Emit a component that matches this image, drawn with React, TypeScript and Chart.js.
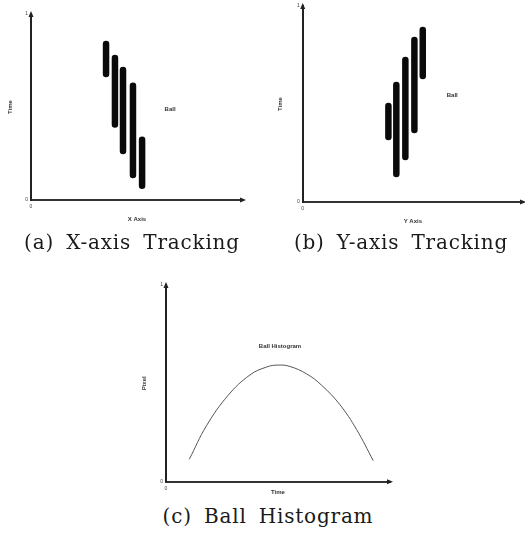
import React, { useEffect, useRef } from "react";
import { Chart, registerables } from "chart.js";

Chart.register(...registerables);

// (a) X-axis tracking: vertical strokes (x position, time from -> to)
const aStrokeX = [0.354, 0.396, 0.434, 0.481, 0.524];
const aStrokeTop = [0.839, 0.764, 0.699, 0.614, 0.324];
const aStrokeBottom = [0.677, 0.406, 0.263, 0.134, 0.076];

// (b) Y-axis tracking
const bStrokeX = [0.389, 0.425, 0.466, 0.507, 0.545];
const bStrokeTop = [0.49, 0.597, 0.725, 0.827, 0.878];
const bStrokeBottom = [0.331, 0.143, 0.229, 0.367, 0.643];

// (c) Ball histogram curve
const cTime = [0.104, 0.181, 0.278, 0.375, 0.449, 0.501, 0.553, 0.628, 0.695, 0.776, 0.851, 0.925];
const cPixel = [0.114, 0.285, 0.44, 0.543, 0.583, 0.593, 0.586, 0.548, 0.49, 0.392, 0.265, 0.107];

const yTickValues = [0, 1];
const xTickValues = [0];

const SANS = "'Liberation Sans', Arial, sans-serif";

const arrowPlugin = {
  id: "axisArrows",
  afterDraw(chart: any) {
    const { ctx, chartArea } = chart;
    const { left, top, right, bottom } = chartArea;
    ctx.save();
    ctx.fillStyle = "#222";
    ctx.beginPath();
    ctx.moveTo(left, top - 3);
    ctx.lineTo(left - 2.5, top + 3);
    ctx.lineTo(left + 2.5, top + 3);
    ctx.closePath();
    ctx.fill();
    ctx.beginPath();
    ctx.moveTo(right + 3, bottom);
    ctx.lineTo(right - 3, bottom - 2.5);
    ctx.lineTo(right - 3, bottom + 2.5);
    ctx.closePath();
    ctx.fill();
    ctx.restore();
  },
};

const labelPlugin = {
  id: "panelLabel",
  afterDatasetsDraw(chart: any, _args: any, opts: any) {
    if (!opts || !opts.text) return;
    const { ctx, scales } = chart;
    ctx.save();
    ctx.font = `bold 6px ${SANS}`;
    ctx.fillStyle = "#333";
    ctx.textAlign = "center";
    ctx.textBaseline = "middle";
    ctx.fillText(opts.text, scales.x.getPixelForValue(opts.x), scales.y.getPixelForValue(opts.y));
    ctx.restore();
  },
};

function axes(o: {
  yWidth: number;
  yTitle: string;
  yTitlePad: number;
  xHeight: number;
  xTitle: string;
  xTitlePad: number;
}) {
  const tickFont = { size: 5, family: SANS };
  const titleFont = { size: 6, family: SANS, weight: "bold" };
  return {
    x: {
      type: "linear",
      min: 0,
      max: 1,
      grid: { display: false, drawTicks: false },
      border: { display: true, color: "#333", width: 2 },
      afterBuildTicks: (s: any) => {
        s.ticks = xTickValues.map((v) => ({ value: v }));
      },
      ticks: { font: tickFont, color: "#444", padding: 4, maxRotation: 0, autoSkip: false },
      title: { display: true, text: o.xTitle, font: titleFont, color: "#333", padding: { top: 0, bottom: o.xTitlePad } },
      afterFit: (s: any) => {
        s.height = o.xHeight;
      },
    },
    y: {
      type: "linear",
      min: 0,
      max: 1,
      grid: { display: false, drawTicks: false },
      border: { display: true, color: "#222", width: 2 },
      afterBuildTicks: (s: any) => {
        s.ticks = yTickValues.map((v) => ({ value: v }));
      },
      ticks: { font: tickFont, color: "#444", padding: 3, autoSkip: false },
      title: { display: true, text: o.yTitle, font: titleFont, color: "#333", padding: { top: o.yTitlePad, bottom: 0 } },
      afterFit: (s: any) => {
        s.width = o.yWidth;
      },
    },
  };
}

function strokeDatasets(xs: number[], tops: number[], bottoms: number[]) {
  return xs.map((x, i) => ({
    label: `stroke ${i + 1}`,
    data: [
      { x, y: tops[i] },
      { x, y: bottoms[i] },
    ],
    showLine: true,
    borderColor: "#0a0a0a",
    backgroundColor: "#0a0a0a",
    borderWidth: 6.5,
    borderCapStyle: "round",
    pointRadius: 0,
  }));
}

function ChartCanvas({ config, left, top, width, height }: any) {
  const ref = useRef<HTMLCanvasElement | null>(null);
  useEffect(() => {
    if (!ref.current) return;
    const chart = new Chart(ref.current, config);
    return () => chart.destroy();
  }, []);
  return (
    <canvas
      ref={ref}
      width={width}
      height={height}
      style={{ position: "absolute", left, top, width, height }}
    />
  );
}

function baseOptions(padding: any, scales: any, label: any) {
  return {
    responsive: false,
    animation: false,
    layout: { padding },
    scales,
    plugins: {
      legend: { display: false },
      tooltip: { enabled: false },
      panelLabel: label,
    },
  };
}

const configA = {
  type: "scatter",
  data: { datasets: strokeDatasets(aStrokeX, aStrokeTop, aStrokeBottom) },
  options: baseOptions(
    { top: 14, right: 12, left: 0, bottom: 0 },
    axes({ yWidth: 31, yTitle: "Time", yTitlePad: 6.4, xHeight: 32, xTitle: "X Axis", xTitlePad: 9.4 }),
    { text: "Ball", x: 0.656, y: 0.489 }
  ),
  plugins: [arrowPlugin, labelPlugin],
};

const configB = {
  type: "scatter",
  data: { datasets: strokeDatasets(bStrokeX, bStrokeTop, bStrokeBottom) },
  options: baseOptions(
    { top: 6, right: 2, left: 0, bottom: 0 },
    axes({ yWidth: 42.7, yTitle: "Time", yTitlePad: 16.4, xHeight: 30, xTitle: "Y Axis", xTitlePad: 7.4 }),
    { text: "Ball", x: 0.679, y: 0.546 }
  ),
  plugins: [arrowPlugin, labelPlugin],
};

const configC = {
  type: "scatter",
  data: {
    datasets: [
      {
        label: "Ball Histogram",
        data: cTime.map((t, i) => ({ x: t, y: cPixel[i] })),
        showLine: true,
        borderColor: "#555",
        borderWidth: 1,
        tension: 0.4,
        pointRadius: 0,
      },
    ],
  },
  options: baseOptions(
    { top: 15, right: 10, left: 0, bottom: 0 },
    axes({ yWidth: 26, yTitle: "Pixel", yTitlePad: 0.4, xHeight: 20.3, xTitle: "Time", xTitlePad: 5.7 }),
    { text: "Ball Histogram", x: 0.509, y: 0.69 }
  ),
  plugins: [arrowPlugin, labelPlugin],
};

const captionStyle: any = {
  position: "absolute",
  width: 300,
  textAlign: "center",
  fontFamily: "'DejaVu Serif', serif",
  fontSize: 20,
  lineHeight: "24px",
  letterSpacing: 0.8,
  wordSpacing: 5,
  color: "#1a1a1a",
  whiteSpace: "nowrap",
};

export default function App() {
  return (
    <div style={{ position: "absolute", left: 0, top: 0, width: 525, height: 533, background: "#fff", overflow: "hidden" }}>
      <ChartCanvas config={configA} left={0} top={0} width={255} height={232} />
      <ChartCanvas config={configB} left={260} top={0} width={265} height={232} />
      <ChartCanvas config={configC} left={140} top={270} width={260} height={232} />
      <div style={{ ...captionStyle, left: 132 - 150, top: 242 - 12 }}>(a) X-axis Tracking</div>
      <div style={{ ...captionStyle, left: 401 - 150, top: 242 - 12 }}>(b) Y-axis Tracking</div>
      <div style={{ ...captionStyle, left: 268 - 150, top: 516 - 12 }}>(c) Ball Histogram</div>
    </div>
  );
}
